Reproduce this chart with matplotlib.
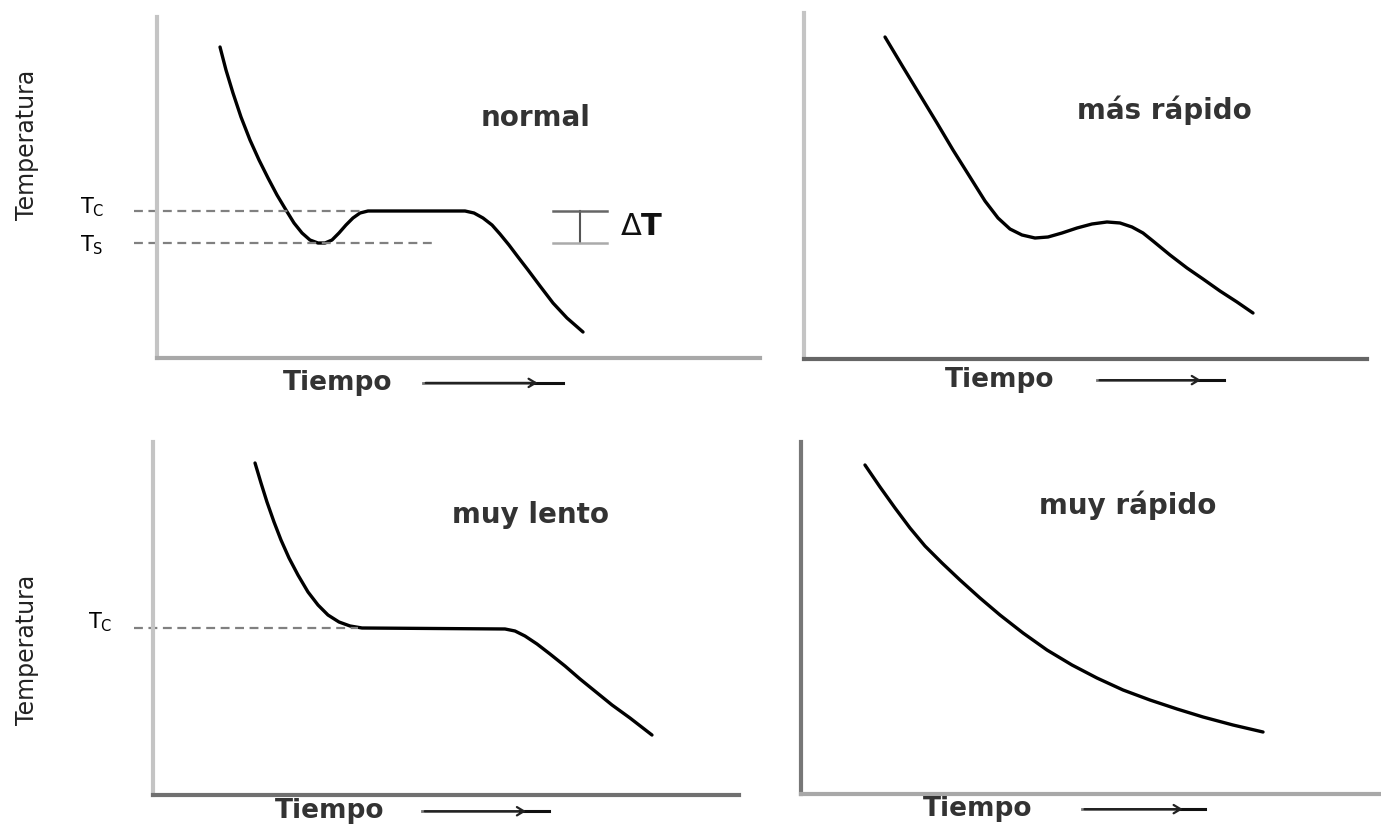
import matplotlib
matplotlib.use("Agg")
import matplotlib.pyplot as plt

plt.rcParams["font.family"] = ["DejaVu Sans"]

# ── Datos (unidades arbitrarias: tiempo 0-100, temperatura 0-100) ─────────
normal_t = [10.45, 11.44, 12.60, 13.93, 15.42, 16.92, 18.41, 19.90, 21.39,
            22.72, 24.05, 25.37, 26.70, 27.86, 29.02, 30.18, 31.34, 32.50,
            33.67, 34.99, 51.08, 52.57, 54.06, 55.56, 56.88, 58.37, 59.87,
            61.53, 63.52, 65.67, 67.99, 70.65]
normal_T = [91.20, 84.46, 77.71, 70.67, 63.93, 58.06, 52.79, 47.80, 43.40,
            39.59, 36.66, 34.60, 33.72, 33.72, 34.60, 36.66, 39.00, 41.06,
            42.52, 43.11, 43.11, 42.52, 41.06, 39.00, 36.36, 33.14, 29.62,
            25.81, 21.11, 16.13, 11.73, 7.62]
normal_TC = 43.11
normal_TS = 33.72

rapido_t = [14.39, 17.58, 20.60, 23.62, 26.47, 29.48, 32.15, 34.46, 36.59,
            38.72, 41.03, 43.34, 45.83, 48.49, 51.15, 53.82, 56.13, 58.26,
            60.21, 61.99, 65.01, 68.03, 70.87, 73.89, 76.91, 79.75]
rapido_T = [93.06, 84.39, 76.30, 68.21, 60.40, 52.60, 45.66, 40.75, 37.57,
            35.84, 34.97, 35.26, 36.42, 37.86, 39.02, 39.60, 39.31, 38.15,
            36.42, 34.10, 30.06, 26.30, 23.12, 19.65, 16.47, 13.29]

lento_t = [17.41, 18.43, 19.45, 20.65, 21.84, 23.21, 24.74, 26.45, 28.16,
           29.86, 31.74, 33.62, 35.67, 60.07, 61.77, 63.48, 65.53, 67.75,
           70.31, 72.87, 75.60, 78.33, 81.40, 85.15]
lento_T = [94.05, 88.39, 83.00, 77.34, 72.24, 67.14, 62.32, 57.51, 53.82,
           50.99, 49.01, 47.88, 47.31, 47.03, 46.46, 45.04, 42.78, 39.94,
           36.54, 32.86, 29.18, 25.50, 21.81, 16.99]
lento_TC = 47.2

muy_rapido_t = [11.03, 13.62, 16.21, 18.79, 21.38, 24.31, 27.41, 30.86,
                34.31, 38.28, 42.41, 46.72, 51.03, 55.52, 60.17, 64.83,
                69.31, 74.48, 79.66]
muy_rapido_T = [93.47, 87.22, 81.25, 75.57, 70.45, 65.63, 60.80, 55.68,
                50.85, 45.74, 40.91, 36.65, 32.95, 29.55, 26.70, 24.15,
                21.88, 19.60, 17.61]

# ── Figura ────────────────────────────────────────────────────────────────
W, H = 1381, 826
fig = plt.figure(figsize=(W / 100, H / 100), dpi=100)


def panel(left, right, top, bottom, ycol, xcol):
    ax = fig.add_axes([left / W, 1 - bottom / H, (right - left) / W,
                       (bottom - top) / H])
    ax.set_xlim(0, 100)
    ax.set_ylim(0, 100)
    ax.set_xticks([])
    ax.set_yticks([])
    for s in ("top", "right"):
        ax.spines[s].set_visible(False)
    ax.spines["left"].set_color(ycol)
    ax.spines["left"].set_linewidth(3)
    ax.spines["bottom"].set_color(xcol)
    ax.spines["bottom"].set_linewidth(3)
    ax.patch.set_alpha(0)
    return ax


def tiempo(ax, tx, ty, a0, a1):
    ax.text(tx, ty, "Tiempo", ha="center", va="center", fontsize=19,
            fontweight="bold", color="#333333", clip_on=False)
    h = a0 + 0.84 * (a1 - a0)
    ax.plot([a0, a1], [ty, ty], color="#777777", lw=2, clip_on=False)
    ax.plot([h - 1.5, a1], [ty, ty], color="#111111", lw=2.2, clip_on=False)
    ax.annotate("", xy=(h, ty), xytext=(a0, ty), annotation_clip=False,
                arrowprops=dict(arrowstyle="->,head_length=0.5,head_width=0.3",
                                color="#222222", lw=1.6))


def curva(ax, t, T):
    ax.plot(t, T, color="black", lw=2.4, solid_capstyle="round",
            solid_joinstyle="round", clip_on=False)


dash = dict(color="#808080", lw=1.6, ls=(0, (4, 2.5)), clip_on=False)
etiqueta = dict(ha="center", va="center", fontsize=20, fontweight="bold",
                color="#333333", clip_on=False)
temp = dict(rotation=90, ha="center", va="center", fontsize=17,
            color="#222222", clip_on=False)

# normal
ax1 = panel(157, 760, 17, 358, "#c4c4c4", "#a8a8a8")
curva(ax1, normal_t, normal_T)
ax1.plot([-3.8, 34.2], [normal_TC, normal_TC], **dash)
ax1.plot([-3.8, 46.4], [normal_TS, normal_TS], **dash)
ax1.text(-10.8, normal_TC + 1, r"T$_\mathrm{C}$", ha="center", va="center",
         fontsize=15, clip_on=False)
ax1.text(-10.8, normal_TS - 0.5, r"T$_\mathrm{S}$", ha="center", va="center",
         fontsize=15, clip_on=False)
ax1.text(62.8, 70.4, "normal", **etiqueta)
ax1.plot([70.1, 70.1], [normal_TS, normal_TC], color="#555555", lw=1.5)
ax1.plot([65.7, 74.6], [normal_TC, normal_TC], color="#666666", lw=1.8)
ax1.plot([65.7, 74.6], [normal_TS, normal_TS], color="#aaaaaa", lw=1.8)
ax1.text(76.8, 38.6, r"$\Delta$T", ha="left", va="center", fontsize=22,
         fontweight="bold", color="#111111")
ax1.text(-21.6, 62.5, "Temperatura", **temp)
tiempo(ax1, 29.9, -7.3, 44.1, 67.3)

# más rápido
ax2 = panel(804, 1367, 13, 359, "#c4c4c4", "#666666")
curva(ax2, rapido_t, rapido_T)
ax2.text(64.0, 71.9, "más rápido", **etiqueta)
tiempo(ax2, 34.8, -6.1, 52.0, 74.6)

# muy lento
ax3 = panel(153, 739, 442, 795, "#c4c4c4", "#707070")
curva(ax3, lento_t, lento_T)
ax3.plot([-3.2, 35.0], [lento_TC, lento_TC], **dash)
ax3.text(-9.0, lento_TC + 1.8, r"T$_\mathrm{C}$", ha="center", va="center",
         fontsize=15, clip_on=False)
ax3.text(64.5, 79.3, "muy lento", **etiqueta)
ax3.text(-21.5, 41.1, "Temperatura", **temp)
tiempo(ax3, 30.2, -4.6, 45.9, 67.6)

# muy rápido
ax4 = panel(801, 1381, 442, 794, "#777777", "#a8a8a8")
curva(ax4, muy_rapido_t, muy_rapido_T)
ax4.text(56.4, 82.1, "muy rápido", **etiqueta)
tiempo(ax4, 30.5, -4.3, 48.4, 69.7)

fig.savefig("out.png", dpi=100)
